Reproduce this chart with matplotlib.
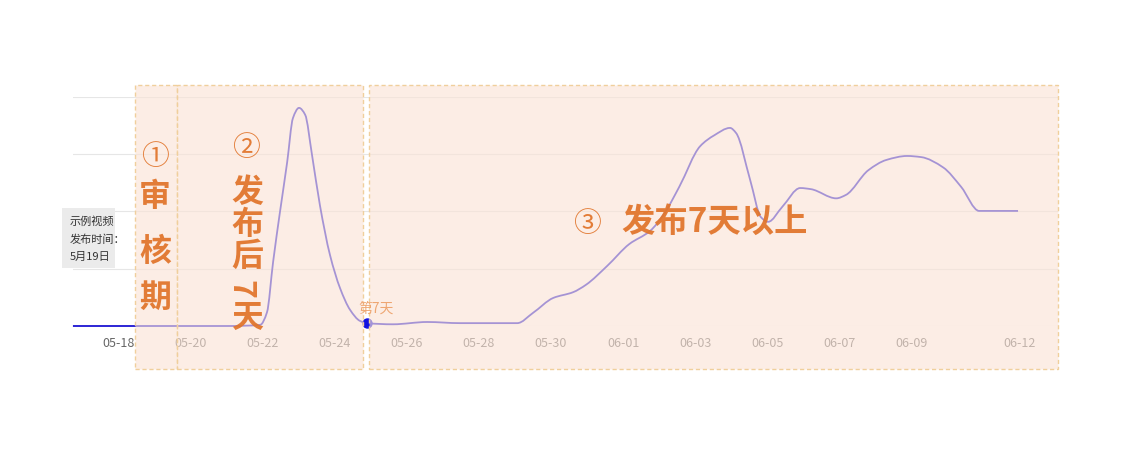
import numpy as np
import matplotlib.pyplot as plt
from matplotlib.patches import Rectangle, PathPatch
from matplotlib.path import Path

plt.rcParams['font.family'] = ['Noto Sans CJK SC', 'DejaVu Sans']

# días desde 05-18 y valores
dias = [-1.28, 0, 1, 2, 3, 3.92, 4.11, 4.28, 4.47, 4.67, 4.83, 5.0, 5.17, 5.36,
        5.58, 5.86, 6.14, 6.42, 6.69, 6.89, 7.61, 8.56, 9.47, 11.06, 11.5,
        12.06, 12.61, 12.97, 13.56, 14.17, 14.75, 15.14, 15.56, 16.14, 16.53,
        16.97, 17.14, 17.53, 17.83, 18.03, 18.42, 18.92, 19.22, 19.92, 20.19,
        20.81, 21.31, 21.89, 22.28, 22.89, 23.39, 23.89, 24.97]
valores = [0, 0, 0, 0, 0, 2, 24, 112, 199, 286, 363, 381, 369, 299,
           211, 124, 66, 28, 9, 5, 3, 7, 5, 5, 23,
           49, 59, 72, 105, 143, 166, 196, 243, 314, 333,
           346, 337, 255, 190, 182, 208, 241, 239, 223, 229,
           272, 290, 297, 295, 277, 243, 201, 201]

tick_dias = [0, 2, 4, 6, 8, 10, 12, 14, 16, 18, 20, 22, 25]
tick_labels = ['05-18', '05-20', '05-22', '05-24', '05-26', '05-28', '05-30',
               '06-01', '06-03', '06-05', '06-07', '06-09', '06-12']

dia_7 = 6.89
valor_7 = 5


def curva_suave(x, y):
    # trazo suave (tangentes monótonas -> curvas de Bézier de matplotlib)
    x = np.asarray(x, float)
    y = np.asarray(y, float)
    h = np.diff(x)
    d = np.diff(y) / h
    m = np.zeros_like(y)
    m[0], m[-1] = d[0], d[-1]
    for i in range(1, len(y) - 1):
        if d[i - 1] * d[i] > 0:
            w1 = 2 * h[i] + h[i - 1]
            w2 = h[i] + 2 * h[i - 1]
            m[i] = (w1 + w2) / (w1 / d[i - 1] + w2 / d[i])
    verts = [(x[0], y[0])]
    codes = [Path.MOVETO]
    for i in range(len(h)):
        verts += [(x[i] + h[i] / 3, y[i] + m[i] * h[i] / 3),
                  (x[i + 1] - h[i] / 3, y[i + 1] - m[i + 1] * h[i] / 3),
                  (x[i + 1], y[i + 1])]
        codes += [Path.CURVE4] * 3
    return Path(verts, codes)


W, H = 1128, 451
fig = plt.figure(figsize=(W / 100, H / 100), dpi=100)
ax = fig.add_axes([73 / W, 1 - 326 / H, (1058 - 73) / W, (326 - 97) / H])

ax.add_patch(PathPatch(curva_suave(dias, valores), fill=False, edgecolor='#1c14d2',
                       lw=1.3, clip_on=False, zorder=3))
ax.plot([dia_7], [valor_7], 'o', color='#1010e0', ms=6.5, clip_on=False, zorder=4)

ax.set_xlim(-1.278, 26.08)
ax.set_ylim(0, 400)
ax.set_yticks([0, 100, 200, 300, 400])
ax.set_yticklabels([])
ax.set_xticks(tick_dias)
ax.set_xticklabels(tick_labels, fontsize=9, color='#666666')
ax.tick_params(length=0, pad=8)
ax.tick_params(axis='y', length=0)
ax.grid(axis='y', color='#e6e6e6', lw=0.8)
for s in ax.spines.values():
    s.set_visible(False)


def px(x, y):
    return x / W, 1 - y / H


# cajas de los periodos (encima de todo el eje)
for x0, x1 in [(135, 177), (177, 363), (369, 1058)]:
    r = Rectangle(px(x0, 369), (x1 - x0) / W, (369 - 85) / H,
                  transform=fig.transFigure, facecolor=(0.985, 0.89, 0.84, 0.62),
                  edgecolor='#f0cf9c', lw=1, linestyle=(0, (3, 2)), zorder=1)
    fig.add_artist(r)

# etiqueta gris
fig.add_artist(Rectangle(px(62, 268), 53 / W, 60 / H, transform=fig.transFigure,
                         facecolor='#ebebeb', edgecolor='none', zorder=1))
for i, t in enumerate(['示例视频', '发布时间：', '5月19日']):
    fig.text(*px(70, 222 + 17.5 * i), t, fontsize=8, color='#333333',
             va='center', ha='left', zorder=2)

naranja = '#e1742a'
kw = dict(color=naranja, ha='center', va='center', zorder=2, alpha=0.93)

fig.text(*px(155, 157), '①', fontsize=20, **kw)
for c, y in zip('审核期', [197, 252, 298]):
    fig.text(*px(155, y), c, fontsize=23, fontweight='bold', **kw)

fig.text(*px(246, 148), '②', fontsize=20, **kw)
for c, x, y, rot in zip('发布后7天', [247, 247, 247, 240, 247],
                        [193, 225, 257, 289, 318], [0, 0, 0, -90, 0]):
    fig.text(*px(x, y), c, fontsize=23, fontweight='bold', rotation=rot, **kw)

fig.text(*px(587, 224), '③', fontsize=20, **kw)
fig.text(*px(621, 222), '发布7天以上', fontsize=24, fontweight='bold',
         color=naranja, ha='left', va='center', zorder=2, alpha=0.93)

fig.text(*px(376, 309), '第7天', fontsize=10, color='#eea672',
         ha='center', va='center', zorder=2)

fig.savefig('out.png', dpi=100)
